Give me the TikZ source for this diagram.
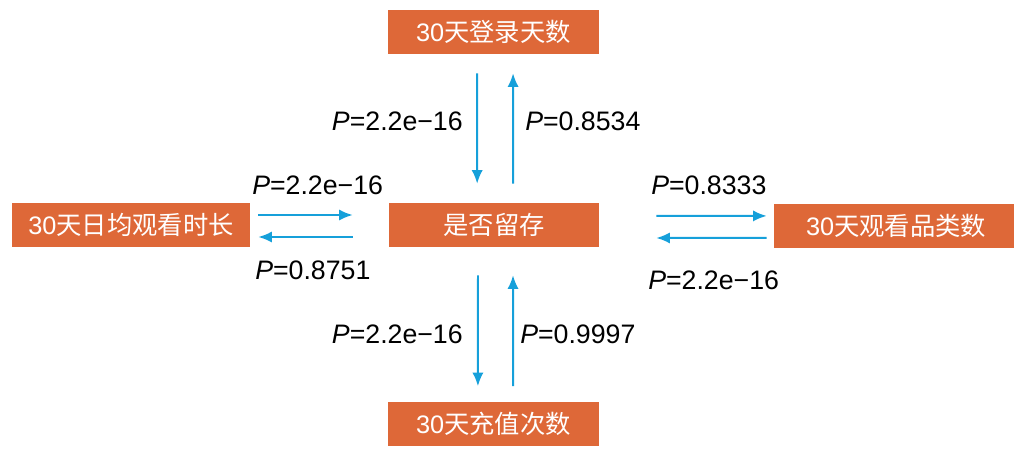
\documentclass[tikz,border=0pt]{standalone}
\usepackage{fontspec}
\setmainfont{Liberation Sans}
\newfontfamily\cjk{Noto Sans CJK SC}
\usetikzlibrary{arrows.meta}

\definecolor{boxorange}{RGB}{222,104,56}
\definecolor{flowblue}{RGB}{22,160,218}

\tikzset{
  varbox/.style={fill=boxorange,text=white,inner sep=0pt,minimum height=1.1cm,
    font=\fontsize{18pt}{22pt}\selectfont},
  plabel/.style={inner sep=0pt,font=\fontsize{19pt}{23pt}\selectfont},
  flow/.style={draw=flowblue,line width=1.4pt,-{Latex[length=3.4mm,width=2.8mm]}}
}

\newcommand{\pval}[1]{\textit{P}=#1}

\begin{document}
\begin{tikzpicture}[x=0.025cm,y=-0.025cm]
        \useasboundingbox (0,0) rectangle (1024,456);

        % variable boxes
        \node[varbox,minimum width=5.25cm] (login) at (493.5, 32.0) {30\cjk 天登录天数};
        \node[varbox,minimum width=5.25cm] (keep)  at (494.0,225.0) {\cjk 是否留存};
        \node[varbox,minimum width=5.95cm] (watch) at (131.0,225.0) {30\cjk 天日均观看时长};
        \node[varbox,minimum width=6.00cm] (cat)   at (894.0,225.5) {\hspace{0.1cm}30\cjk 天观看品类数};
        \node[varbox,minimum width=5.25cm] (pay)   at (493.5,423.5) {30\cjk 天充值次数};

        % p-values
        \node[plabel,anchor=east] (p1) at (463,121) {\pval{2.2e\textminus16}};
        \node[plabel,anchor=west] (p2) at (525,121) {\pval{0.8534}};
        \node[plabel,anchor=west] (p3) at (252,185) {\pval{2.2e\textminus16}};
        \node[plabel,anchor=west] (p4) at (255,270) {\pval{0.8751}};
        \node[plabel,anchor=west] (p5) at (651,185) {\pval{0.8333}};
        \node[plabel,anchor=west] (p6) at (648,280) {\pval{2.2e\textminus16}};
        \node[plabel,anchor=east] (p7) at (463,334) {\pval{2.2e\textminus16}};
        \node[plabel,anchor=west] (p8) at (520,334) {\pval{0.9997}};

        % arrows
        \draw[flow,shorten <=0.475cm,shorten >=0.475cm] ([xshift=-0.41cm]login.south) to ([xshift=-0.42cm]keep.north);
        \draw[flow,shorten <=0.475cm,shorten >=0.475cm] ([xshift=0.475cm]keep.north) to ([xshift=0.49cm]login.south);
        \draw[flow,shorten <=0.2cm,shorten >=0.9cm] ([yshift=0.25cm]watch.east) to ([yshift=0.25cm]keep.west);
        \draw[flow,shorten <=0.9cm,shorten >=0.2cm] ([yshift=-0.3cm]keep.west) to ([yshift=-0.3cm]watch.east);
        \draw[flow,shorten <=1.425cm,shorten >=0.175cm] ([yshift=0.225cm]keep.east) to ([yshift=0.24cm]cat.west);
        \draw[flow,shorten <=0.175cm,shorten >=1.425cm] ([yshift=-0.31cm]cat.west) to ([yshift=-0.325cm]keep.east);
        \draw[flow,shorten <=0.7cm,shorten >=0.375cm] ([xshift=-0.4cm]keep.south) to ([xshift=-0.39cm]pay.north);
        \draw[flow,shorten <=0.375cm,shorten >=0.7cm] ([xshift=0.49cm]pay.north) to ([xshift=0.475cm]keep.south);
      \end{tikzpicture}
\end{document}
